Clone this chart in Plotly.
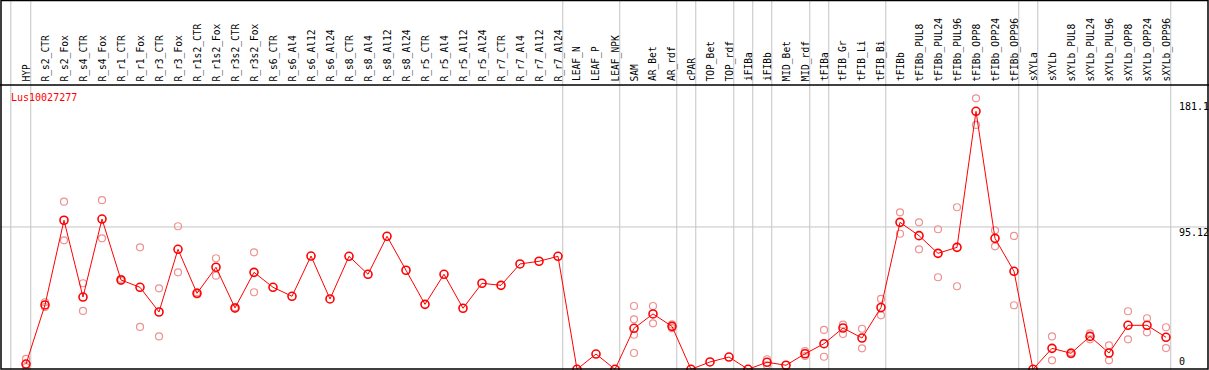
import plotly.graph_objects as go

W, H = 1209, 370

categories = [
    "HYP", "R_s2_CTR", "R_s2_Fox", "R_s4_CTR", "R_s4_Fox", "R_r1_CTR", "R_r1_Fox",
    "R_r3_CTR", "R_r3_Fox", "R_r1s2_CTR", "R_r1s2_Fox", "R_r3s2_CTR", "R_r3s2_Fox",
    "R_s6_CTR", "R_s6_Al4", "R_s6_Al12", "R_s6_Al24", "R_s8_CTR", "R_s8_Al4",
    "R_s8_Al12", "R_s8_Al24", "R_r5_CTR", "R_r5_Al4", "R_r5_Al12", "R_r5_Al24",
    "R_r7_CTR", "R_r7_Al4", "R_r7_Al12", "R_r7_Al24", "LEAF_N", "LEAF_P", "LEAF_NPK",
    "SAM", "AR_Bet", "AR_rdf", "cPAR", "TOP_Bet", "TOP_rdf", "iFIBa", "iFIBb",
    "MID_Bet", "MID_rdf", "tFIBa", "tFIB_Gr", "tFIB_Li", "tFIB_Bi", "tFIBb",
    "tFIBb_PUL8", "tFIBb_PUL24", "tFIBb_PUL96", "tFIBb_OPP8", "tFIBb_OPP24",
    "tFIBb_OPP96", "sXYLa", "sXYLb", "sXYLb_PUL8", "sXYLb_PUL24", "sXYLb_PUL96",
    "sXYLb_OPP8", "sXYLb_OPP24", "sXYLb_OPP96",
]

mean_values = [
    3.5, 43.0, 99.6, 48.3, 100.4, 59.7, 54.8, 38.3, 80.2, 50.8, 68.2, 41.0, 64.8,
    54.8, 48.8, 75.7, 47.0, 75.5, 63.5, 88.9, 66.2, 43.4, 63.5, 40.8, 57.5,
    56.1, 70.4, 72.2, 75.5, 0.0, 10.2, 0.0,
    27.4, 37.0, 28.7, 0.0, 4.9, 8.2, 0.0, 4.7, 2.7, 10.4, 17.1, 27.6, 20.9, 41.3,
    98.2, 89.3, 77.5, 81.5, 172.4, 87.5, 65.5, 0.0, 14.0, 10.7, 22.0, 10.9,
    29.4, 29.4, 21.4,
]

N = None
rep_1 = [
    6.9, 44.8, 112.0, 57.5, 113.0, 60.5, 81.5, 54.1, 95.6, 51.5, 74.2, 41.5, 78.2,
    N, N, N, N, N, N, N, N, N, N, N, N, N, N, N, N, N, N, N,
    42.3, 42.3, 27.5, N, N, N, N, 6.7, N, 12.2, 26.3, 29.8, 27.1, 47.0,
    104.9, 98.2, 93.6, 108.3, 181.1, 92.9, 89.1, N, 22.0, 11.4, 24.0, 16.0,
    38.8, 34.1, 28.1,
]
rep_2 = [
    1.5, 41.6, 86.2, 39.0, 87.5, 59.0, 28.3, 22.0, 64.8, 50.0, 62.6, 40.5, 51.5,
    N, N, N, N, N, N, N, N, N, N, N, N, N, N, N, N, N, N, N,
    33.4, 30.7, 30.0, N, N, N, N, 2.7, N, 8.9, 8.4, 23.6, 14.0, 36.1,
    90.6, 80.2, 61.5, 55.5, 163.3, 82.2, 42.8, N, 6.0, 10.0, 20.0, 6.0,
    20.0, 24.7, 14.2,
]
rep_3 = [
    N, N, N, N, N, N, N, N, N, N, N, N, N,
    N, N, N, N, N, N, N, N, N, N, N, N, N, N, N, N, N, N, N,
    23.1, N, N, N, N, N, N, N, N, N, N, N, N, N,
    N, N, N, N, N, N, N, N, N, N, N, N,
    N, N, N,
]
rep_4 = [
    N, N, N, N, N, N, N, N, N, N, N, N, N,
    N, N, N, N, N, N, N, N, N, N, N, N, N, N, N, N, N, N, N,
    10.9, N, N, N, N, N, N, N, N, N, N, N, N, N,
    N, N, N, N, N, N, N, N, N, N, N, N,
    N, N, N,
]

# group separators follow these category indices (-1 = before the first)
group_ends = [-1, 0, 28, 31, 34, 35, 37, 38, 39, 41, 42, 45, 52, 53, 60]

y_ticks = [0, 95.12, 181.1]
y_tick_labels = ["0", "95.12", "181.1"]
gene_name = "Lus10027277"

# --- geometry (pixels) ---
x0_px, step_px = 26.0, 19.0
zero_px_from_bottom = 0.7
px_per_unit = 1.4964
header_px = 85

xr = [-x0_px / step_px, (W - x0_px) / step_px]
yr = [-zero_px_from_bottom / px_per_unit, (H - zero_px_from_bottom) / px_per_unit]

def py(px_from_top):
    return 1 - px_from_top / H

def px_x(px):
    return px / W

idx = list(range(len(categories)))

rep_x, rep_y = [], []
for reps in (rep_1, rep_2, rep_3, rep_4):
    for i, v in zip(idx, reps):
        if v is not None:
            rep_x.append(i)
            rep_y.append(v)

fig = go.Figure()
fig.add_trace(go.Scatter(
    x=rep_x, y=rep_y, mode="markers",
    marker=dict(symbol="circle-open", size=7, color="rgb(238,145,145)",
                line=dict(width=1.2, color="rgb(238,145,145)")),
    hoverinfo="skip", showlegend=False,
))
fig.add_trace(go.Scatter(
    x=idx, y=mean_values, mode="lines+markers",
    line=dict(color="#ff0000", width=1),
    marker=dict(symbol="circle-open", size=8, color="#ff0000",
                line=dict(width=1.6, color="#ff0000")),
    text=categories, showlegend=False,
))

shapes = []
grey = "#c4c4c4"
for g in group_ends:
    xv = g + 0.25 if g >= 0 else g + 0.2
    shapes.append(dict(type="line", xref="x", yref="paper", x0=xv, x1=xv, y0=0, y1=1,
                       line=dict(color=grey, width=1), layer="below"))
# gridline at middle tick
shapes.append(dict(type="line", xref="paper", yref="y", x0=0, x1=1, y0=95.12, y1=95.12,
                   line=dict(color=grey, width=1), layer="below"))
# borders
black = "#000000"
shapes.append(dict(type="line", xref="paper", yref="paper", x0=0, x1=1, y0=py(header_px), y1=py(header_px),
                   line=dict(color=black, width=1.5)))
shapes.append(dict(type="rect", xref="paper", yref="paper", x0=px_x(1), x1=px_x(W - 1),
                   y0=py(H - 1), y1=py(0.5), line=dict(color=black, width=1.5)))

annotations = []
for i, c in enumerate(categories):
    annotations.append(dict(
        x=i, xref="x", y=py(header_px - 1.5), yref="paper", text=c, textangle=-90,
        showarrow=False, xanchor="center", yanchor="bottom",
        font=dict(family="DejaVu Sans Mono", size=9.6, color="#000000"),
    ))
annotations.append(dict(
    x=px_x(9), xref="paper", y=py(97.5), yref="paper", text=gene_name,
    showarrow=False, xanchor="left", yanchor="middle",
    font=dict(family="DejaVu Sans Mono", size=10, color="#ff0000"),
))
label_centers = {"0": 361.7, "95.12": 232.0, "181.1": 106.7}
for t in y_tick_labels:
    annotations.append(dict(
        x=px_x(1177), xref="paper", y=py(label_centers[t]), yref="paper", text=t,
        showarrow=False, xanchor="left", yanchor="middle",
        font=dict(family="DejaVu Sans Mono", size=10, color="#000000"),
    ))

fig.update_layout(
    width=W, height=H, margin=dict(l=0, r=0, t=0, b=0),
    paper_bgcolor="white", plot_bgcolor="white",
    xaxis=dict(range=xr, showgrid=False, zeroline=False, showticklabels=False,
               ticks="", fixedrange=True),
    yaxis=dict(range=yr, showgrid=False, zeroline=False, showticklabels=False,
               ticks="", fixedrange=True),
    shapes=shapes, annotations=annotations, showlegend=False,
)

fig.write_html(
    "out.html",
    config={"displayModeBar": False},
    post_script="document.body.style.margin='0';document.body.style.overflow='hidden';",
)
